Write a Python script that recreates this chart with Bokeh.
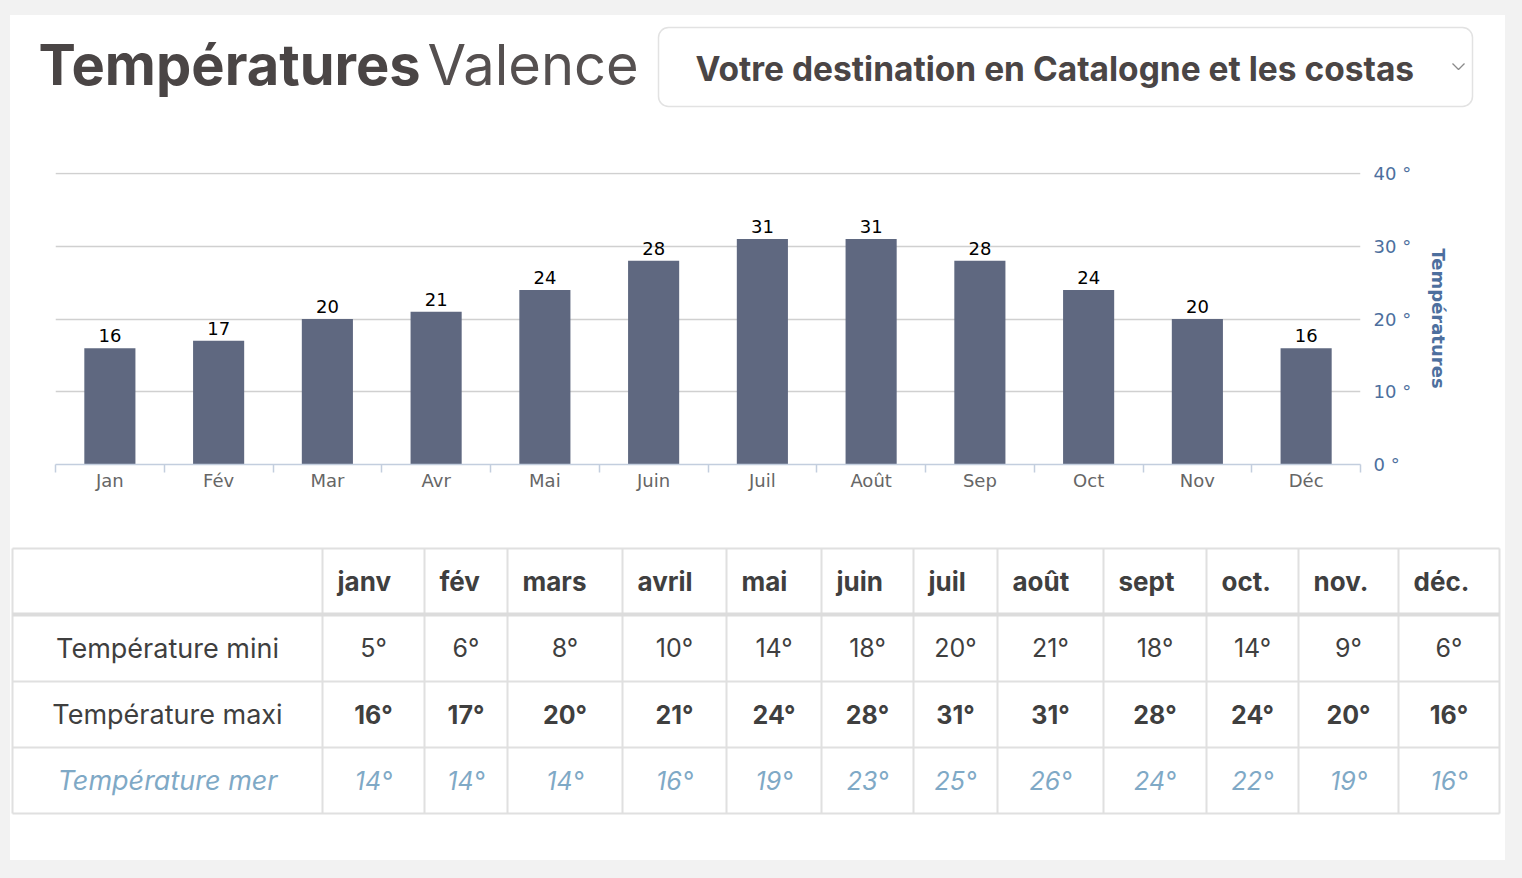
from bokeh.plotting import figure
from bokeh.layouts import column
from bokeh.models import Range1d, FixedTicker, PrintfTickFormatter, ColumnDataSource
from bokeh.core.properties import value
from bokeh.embed import file_html
from bokeh.resources import INLINE

# ---------------- data ----------------
months_chart = ["Jan", "Fév", "Mar", "Avr", "Mai", "Juin", "Juil", "Août", "Sep", "Oct", "Nov", "Déc"]
temp_max = [16, 17, 20, 21, 24, 28, 31, 31, 28, 24, 20, 16]
temp_min = [5, 6, 8, 10, 14, 18, 20, 21, 18, 14, 9, 6]
temp_sea = [14, 14, 14, 16, 19, 23, 25, 26, 24, 22, 19, 16]
months_table = ["janv", "fév", "mars", "avril", "mai", "juin", "juil", "août", "sept", "oct.", "nov.", "déc."]
row_labels = ["Température mini", "Température maxi", "Température mer"]
y_ticks = [0, 10, 20, 30, 40]

title_bold = "Températures"
title_light = "Valence"
dropdown_text = "Votre destination en Catalogne et les costas"
axis_title = "Températures"

# ---------------- layout constants ----------------
W = 1495
TITLE_COLOR = "#4a4545"
TEXT_COLOR = "#3f3f3f"
SEA_COLOR = "#7fa9c6"
BAR_COLOR = "#5f6880"
AXIS_BLUE = "#4d6f9e"
UI_FONT = "Inter"
CHART_FONT = "DejaVu Sans"

# ---------------- header ----------------
H_HEAD = 120
head = figure(width=W, height=H_HEAD, x_range=Range1d(0, W), y_range=Range1d(H_HEAD, 0),
              x_axis_location=None, y_axis_location=None, toolbar_location=None,
              output_backend="svg", min_border=0, outline_line_color=None, frame_align=False)
head.grid.visible = False
head.text(x=[28], y=[49], text=[title_bold], text_font=value(UI_FONT), text_font_style="bold",
          text_font_size="56px", text_color=TITLE_COLOR, text_baseline="middle", text_align="left")
head.text(x=[417], y=[49], text=[title_light], text_font=value(UI_FONT), text_font_style="normal",
          text_font_size="56px", text_color="#555050", text_baseline="middle", text_align="left")
head.quad(left=[648], right=[1462], top=[12], bottom=[91], fill_color="white",
          line_color="#e2e2e2", line_width=1.5, border_radius=10)
head.text(x=[685], y=[53], text=[dropdown_text], text_font=value(UI_FONT), text_font_style="bold",
          text_font_size="33.5px", text_color=TITLE_COLOR, text_baseline="middle", text_align="left")
head.line(x=[1442, 1448, 1454], y=[48, 54, 48], line_color="#8a8a8a", line_width=1.3)

# ---------------- chart ----------------
n = len(months_chart)
xc = [i + 0.5 for i in range(n)]
src = ColumnDataSource(dict(x=xc, top=temp_max, lab=[str(v) for v in temp_max]))

chart = figure(width=W, height=395, x_range=Range1d(0, n), y_range=Range1d(0, 40.15),
               y_axis_location="right", toolbar_location=None, output_backend="svg",
               min_border_left=45, min_border_right=145, min_border_top=37, min_border_bottom=66,
               outline_line_color=None, frame_align=False)
chart.vbar(x="x", top="top", bottom=0, width=0.47, source=src, fill_color=BAR_COLOR, line_color=None)
chart.text(x="x", y="top", text="lab", source=src, text_align="center", text_baseline="bottom",
           y_offset=-6, text_font=value(CHART_FONT), text_font_size="18px", text_color="#000000")

xa = chart.xaxis[0]
xa.ticker = FixedTicker(ticks=xc, minor_ticks=list(range(n + 1)))
xa.major_label_overrides = {x: m for x, m in zip(xc, months_chart)}
xa.major_tick_line_color = None
xa.major_tick_out = 0
xa.major_tick_in = 0
xa.minor_tick_line_color = "#c3cede"
xa.minor_tick_out = 8
xa.minor_tick_in = 0
xa.axis_line_color = "#c3cede"
xa.axis_line_width = 1.5
xa.minor_tick_line_width = 1.5
xa.major_label_text_font = CHART_FONT
xa.major_label_text_font_size = "18px"
xa.major_label_text_color = "#666666"
xa.major_label_standoff = -3

ya = chart.yaxis[0]
ya.ticker = FixedTicker(ticks=y_ticks, minor_ticks=[])
ya.formatter = PrintfTickFormatter(format="%d °")
ya.axis_line_color = None
ya.major_tick_line_color = None
ya.minor_tick_line_color = None
ya.major_tick_out = 0
ya.major_label_standoff = 13
ya.major_label_text_font = CHART_FONT
ya.major_label_text_font_size = "18px"
ya.major_label_text_color = AXIS_BLUE
ya.axis_label = axis_title
ya.axis_label_text_font = CHART_FONT
ya.axis_label_text_font_size = "18px"
ya.axis_label_text_font_style = "bold"
ya.axis_label_text_color = AXIS_BLUE
ya.axis_label_standoff = 14

chart.xgrid.visible = False
chart.ygrid.ticker = FixedTicker(ticks=y_ticks)
chart.ygrid.grid_line_color = "#d0d0d0"
chart.ygrid.grid_line_width = 1.3

# ---------------- table ----------------
H_TAB = 330
col_edges = [2, 312, 414, 497, 612, 716, 811, 903, 987, 1093, 1196, 1288, 1388, 1489]
row_edges = [18, 84, 151, 217, 283]
PAD = 15

tab = figure(width=W, height=H_TAB, x_range=Range1d(0, W), y_range=Range1d(H_TAB, 0),
             x_axis_location=None, y_axis_location=None, toolbar_location=None,
             output_backend="svg", min_border=0, outline_line_color=None, frame_align=False)
tab.grid.visible = False
LINE = "#e0e0e0"
tab.segment(x0=col_edges, x1=col_edges, y0=[row_edges[0]] * len(col_edges),
            y1=[row_edges[-1]] * len(col_edges), line_color=LINE, line_width=2)
for i, yy in enumerate(row_edges):
    tab.segment(x0=[col_edges[0]], x1=[col_edges[-1]], y0=[yy], y1=[yy],
                line_color="#dcdcdc" if i == 1 else LINE, line_width=4 if i == 1 else 2)

hdr_y = (row_edges[0] + row_edges[1]) / 2
tab.text(x=[c + PAD for c in col_edges[1:-1]], y=[hdr_y] * 12, text=months_table,
         text_font=value(UI_FONT), text_font_style="bold", text_font_size="26px",
         text_color=TEXT_COLOR, text_align="left", text_baseline="middle")

centers = [(a + b) / 2 for a, b in zip(col_edges[1:-1], col_edges[2:])]
label_x = (col_edges[0] + col_edges[1]) / 2
rows = [temp_min, temp_max, temp_sea]
styles = ["normal", "bold", "italic"]
colors = [TEXT_COLOR, TEXT_COLOR, SEA_COLOR]
for r, (vals, st, colr, lab) in enumerate(zip(rows, styles, colors, row_labels)):
    yy = (row_edges[r + 1] + row_edges[r + 2]) / 2
    tab.text(x=[label_x], y=[yy], text=[lab], text_font=value(UI_FONT),
             text_font_style="italic" if st == "italic" else "normal", text_font_size="27px",
             text_color=colr, text_align="center", text_baseline="middle")
    tab.text(x=centers, y=[yy] * 12, text=[f"{v}°" for v in vals], text_font=value(UI_FONT),
             text_font_style=st, text_font_size="25px", text_color=colr,
             text_align="center", text_baseline="middle")

layout = column(head, chart, tab, spacing=0, styles={"background-color": "white"})

html = file_html(layout, INLINE, title="Températures Valence")
html = html.replace("<head>", "<head><style>body{background:#f2f2f2;padding:15px 0 0 10px !important;}</style>", 1)
open("out.html", "w").write(html)
